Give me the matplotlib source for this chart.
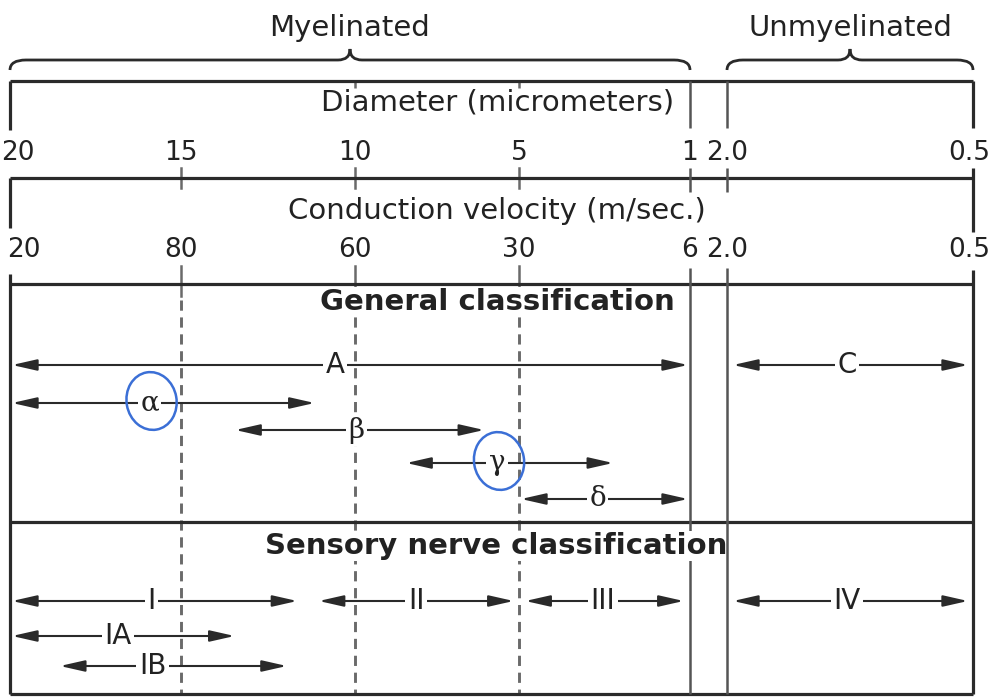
import numpy as np
import matplotlib
matplotlib.use("Agg")
import matplotlib.pyplot as plt
from matplotlib.patches import FancyArrowPatch, Ellipse, PathPatch
from matplotlib.path import Path

# ---------------- data ----------------
diam_ticks = [20, 15, 10, 5, 1]                 # myelinated diameter scale (micrometers)
diam_labels = ['20', '15', '10', '5', '1']
vel_labels = ['20', '80', '60', '30', '6']      # conduction velocity (m/sec.)
unmy_ticks = [2.0, 0.5]                         # unmyelinated diameter scale
unmy_diam_labels = ['2.0', '0.5']
unmy_vel_labels = ['2.0', '0.5']

general_names = ['A', 'α', 'β', 'γ', 'δ']
general_from = [20, 20, 13.5, 8.5, 5.0]
general_to = [1.0, 11.1, 6.0, 2.75, 1.0]
unmy_general_names = ['C']
unmy_general_from = [2.0]
unmy_general_to = [0.5]

sensory_names = ['I', 'II', 'III', 'IA', 'IB']
sensory_from = [20, 11.1, 4.9, 20, 18.6]
sensory_to = [11.6, 5.1, 1.1, 13.4, 11.9]
unmy_sensory_names = ['IV']
unmy_sensory_from = [2.0]
unmy_sensory_to = [0.5]

circled = ['α', 'γ']

# ---------------- layout ----------------
W, H = 1004, 697
tick_px = [10, 181, 355, 519, 690]
unmy_px = [727, 973]
y_top, y_d, y_v, y_g, y_bot = 81, 178, 284, 522, 694
general_y = [365, 403, 430, 463, 499]
general_frac = [0.478, 0.455, 0.486, 0.44, 0.46]
unmy_general_y = [365]
sensory_y = [601, 601, 601, 636, 666]
sensory_frac = [0.49, 0.5, 0.49, 0.478, 0.41]
unmy_sensory_y = [601]

DARK = '#2a2a2a'
GREY = '#6a6a6a'


def xm(d):
    return float(np.interp(-d, -np.array(diam_ticks, float), tick_px))


def xu(d):
    return float(np.interp(-d, -np.array(unmy_ticks, float), unmy_px))


fig = plt.figure(figsize=(W / 100, H / 100), dpi=100)
ax = fig.add_axes([0, 0, 1, 1])
ax.set_xlim(0, W)
ax.set_ylim(H, 0)
ax.axis('off')

x_left, x_right = tick_px[0], unmy_px[1]
x_m_end, x_u_start = tick_px[-1], unmy_px[0]

# horizontal rules
for y in [y_top, y_d, y_v, y_g, y_bot]:
    ax.plot([x_left, x_right], [y, y], color=DARK, lw=2.3, solid_capstyle='butt', zorder=3)

# outer borders
for (a, b) in [(y_top, 130), (y_d, 228), (274, y_bot)]:
    ax.plot([x_left, x_left], [a, b], color=DARK, lw=2.3, solid_capstyle='butt', zorder=3)
for (a, b) in [(y_top, 128), (168, 232), (270, y_bot)]:
    ax.plot([x_right, x_right], [a, b], color=DARK, lw=2.3, solid_capstyle='butt', zorder=3)
# myelinated / unmyelinated separators
for x in [x_m_end, x_u_start]:
    for (a, b) in [(y_top, 128), (168, 192), (268, y_bot)]:
        ax.plot([x, x], [a, b], color='#555555', lw=1.8, solid_capstyle='butt',
                zorder=6 if x == x_u_start else 3)

# interior ticks and dashed lines
for i, x in enumerate(tick_px[1:-1]):
    if i > 0:
        ax.plot([x, x], [y_top, y_top + 7], color=GREY, lw=1.8, solid_capstyle='butt', zorder=2)
    ax.plot([x, x], [168, 188], color=GREY, lw=1.8, zorder=2)
    ax.plot([x, x], [266, 296], color=GREY, lw=1.8, zorder=2)
    ax.plot([x, x], [300, y_bot], color=GREY, lw=2.1, ls=(0, (3.5, 2.3)), zorder=2)

# braces
def brace(x0, x1, y_end=70, y_h=60, y_tip=49, r=16, rt=12):
    xc = (x0 + x1) / 2
    verts = [(x0, y_end), (x0, y_h), (x0 + r, y_h), (xc - rt, y_h), (xc, y_h), (xc, y_tip),
             (xc, y_h), (xc + rt, y_h), (x1 - r, y_h), (x1, y_h), (x1, y_end)]
    codes = [Path.MOVETO, Path.CURVE3, Path.CURVE3, Path.LINETO, Path.CURVE3, Path.CURVE3,
             Path.CURVE3, Path.CURVE3, Path.LINETO, Path.CURVE3, Path.CURVE3]
    ax.add_patch(PathPatch(Path(verts, codes), fc='none', ec=DARK, lw=2.0, zorder=3))
    return xc

xc1 = brace(x_left, x_m_end)
xc2 = brace(x_u_start, x_right)
ax.text(xc1, 28, 'Myelinated', ha='center', va='center', fontsize=21, color='#222222')
ax.text(xc2, 28, 'Unmyelinated', ha='center', va='center', fontsize=21, color='#222222')

# row titles
xmid = (x_left + x_right) / 2
ax.text(xmid + 6, 103, 'Diameter (micrometers)', ha='center', va='center', fontsize=21, color='#222222')
ax.text(xmid + 5, 211, 'Conduction velocity (m/sec.)', ha='center', va='center', fontsize=21, color='#222222')
wb = dict(fc='white', ec='none', pad=1.0)
ax.text(xmid + 6, 302, 'General classification', ha='center', va='center', fontsize=21,
        fontweight='bold', color='#222222', bbox=wb, zorder=5)
ax.text(xmid + 5, 546, 'Sensory nerve classification', ha='center', va='center', fontsize=21,
        fontweight='bold', color='#222222', bbox=wb, zorder=5)

# tick labels
for i, (x, l1, l2) in enumerate(zip(tick_px, diam_labels, vel_labels)):
    off1 = 8 if i == 0 else 0
    off2 = 14 if i == 0 else 0
    ax.text(x + off1, 153, l1, ha='center', va='center', fontsize=19, color='#222222')
    ax.text(x + off2, 250, l2, ha='center', va='center', fontsize=19, color='#222222')
for x, l1, l2 in zip(unmy_px, unmy_diam_labels, unmy_vel_labels):
    off = -4 if x == unmy_px[-1] else 0
    ax.text(x + off, 153, l1, ha='center', va='center', fontsize=19, color='#222222')
    ax.text(x + off, 250, l2, ha='center', va='center', fontsize=19, color='#222222')


# arrows
def arrow(x0, x1, y, label, frac, fs=20):
    p = FancyArrowPatch((x0, y), (x1, y),
                        arrowstyle='<|-|>,head_length=1.5,head_width=0.34',
                        mutation_scale=10, lw=1.5, color=DARK, shrinkA=1.5, shrinkB=1.5, zorder=4)
    ax.add_patch(p)
    greek = label in ('α', 'β', 'γ', 'δ')
    ax.text(x0 + frac * (x1 - x0), y, label, ha='center', va='center', fontsize=fs,
            family='DejaVu Serif' if greek else 'DejaVu Sans', color='#222222',
            bbox=dict(fc='white', ec='none', pad=1.8), zorder=5)
    return x0 + frac * (x1 - x0)

label_pos = {}
for n, a, b, y, f in zip(general_names, general_from, general_to, general_y, general_frac):
    label_pos[n] = (arrow(xm(a), xm(b), y, n, f), y)
for n, a, b, y in zip(unmy_general_names, unmy_general_from, unmy_general_to, unmy_general_y):
    arrow(xu(a) + 4, xu(b) - 3, y, n, 0.485)
for n, a, b, y, f in zip(sensory_names, sensory_from, sensory_to, sensory_y, sensory_frac):
    arrow(xm(a), xm(b), y, n, f)
for n, a, b, y in zip(unmy_sensory_names, unmy_sensory_from, unmy_sensory_to, unmy_sensory_y):
    arrow(xu(a) + 4, xu(b) - 3, y, n, 0.485)

# hand-drawn blue circles
for n in circled:
    cx, cy = label_pos[n]
    ax.add_patch(Ellipse((cx + 2, cy - 2), 50, 58, angle=-10, fc='none',
                         ec='#3b6fd6', lw=1.8, zorder=7))

fig.savefig('out.png', dpi=100)
